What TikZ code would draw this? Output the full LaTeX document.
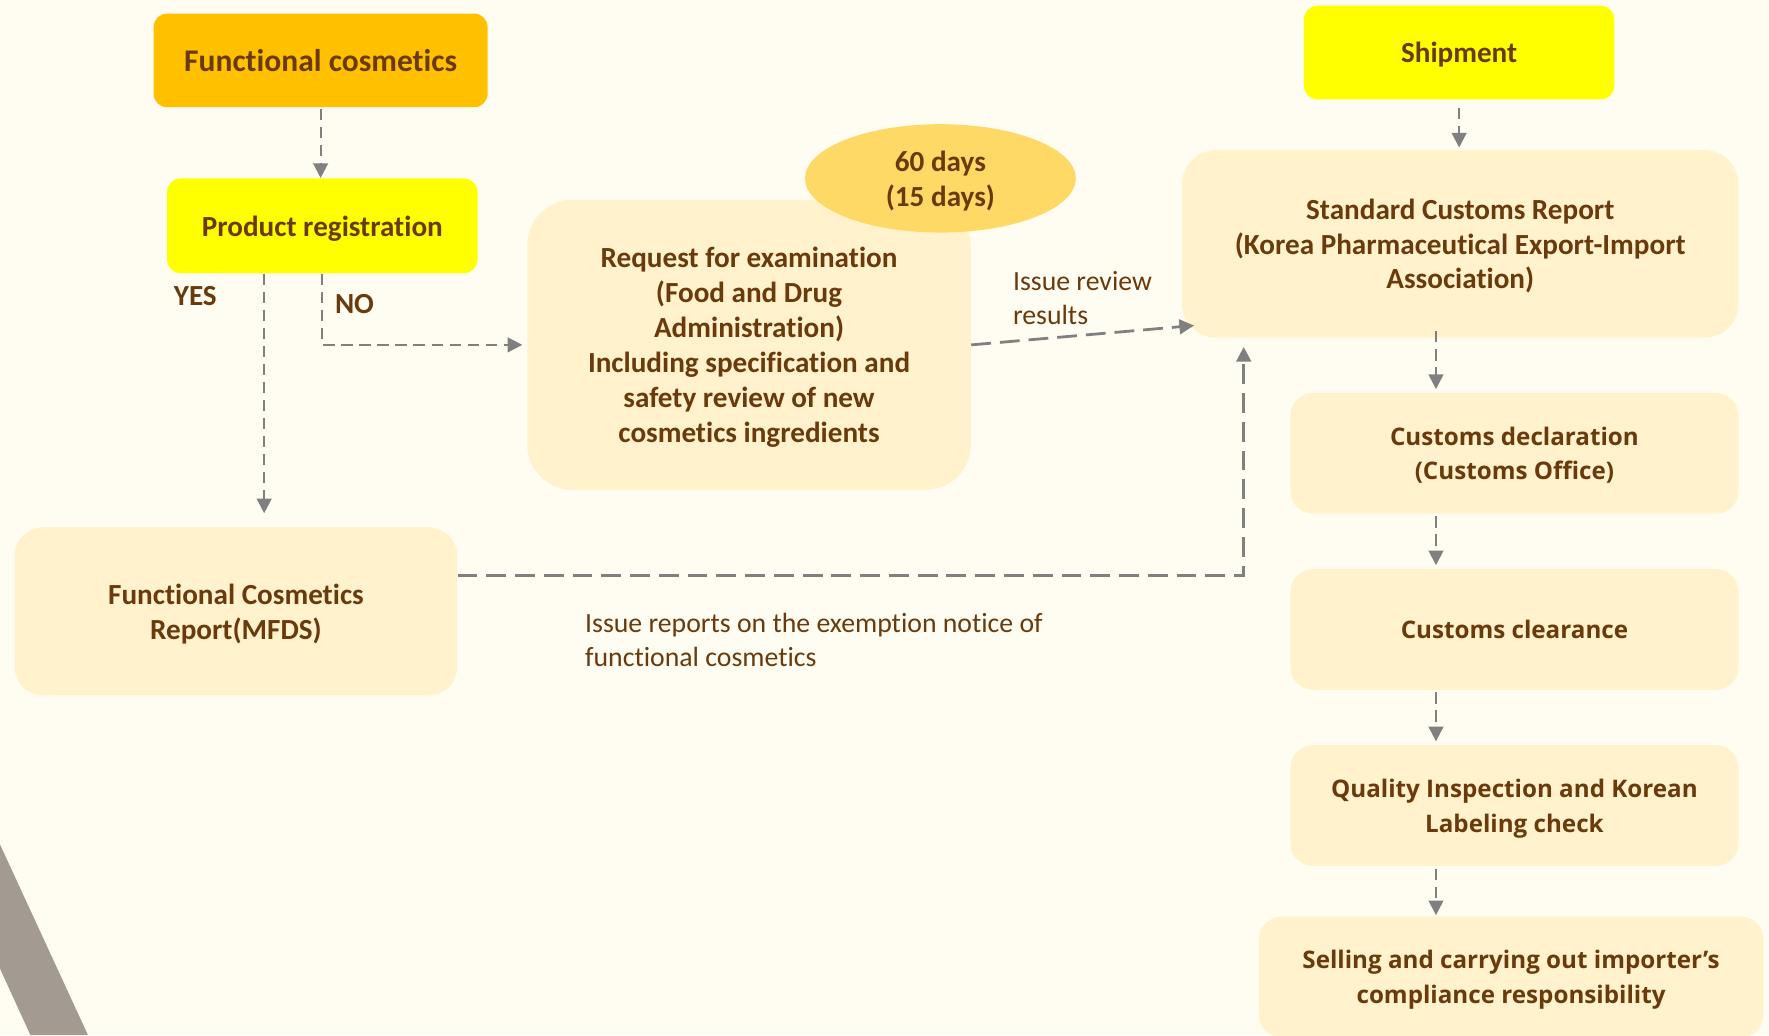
\documentclass[tikz,border=0pt]{standalone}
\usepackage{fontspec}
\setmainfont{Carlito}[Ligatures=NoCommon]
\newfontfamily\opensans{Open Sans}
\usetikzlibrary{arrows.meta,shapes.geometric}

\definecolor{bgcream}{HTML}{FFFDF1}
\definecolor{boxorange}{HTML}{FFC000}
\definecolor{boxyellow}{HTML}{FFFF00}
\definecolor{boxpale}{HTML}{FFF2CC}
\definecolor{daysgold}{HTML}{FFD966}
\definecolor{textbrown}{HTML}{6B3A0C}
\definecolor{linegrey}{HTML}{808080}
\definecolor{bargrey}{HTML}{A39A92}

\begin{document}
\begin{tikzpicture}[x=0.02cm, y=-0.02cm,
  box/.style={rounded corners=0.24cm, align=center, inner sep=0pt, text=textbrown, text depth=0pt,
    font=\bfseries\fontsize{14.7}{17.6}\selectfont},
  rbox/.style={box, fill=boxpale, minimum width=7.94cm, minimum height=2.14cm,
    rounded corners=0.4cm, font=\opensans\bfseries\fontsize{12.2}{17.6}\selectfont},
  note/.style={align=left, anchor=west, inner sep=0pt, text=textbrown,
    font=\fontsize{14}{17}\selectfont},
  flow/.style={draw=linegrey, line width=1.1pt, dash pattern=on 5.7pt off 3.4pt,
    -{Triangle[length=0.26cm, width=0.26cm]}},
  longflow/.style={flow, line width=1.4pt, dash pattern=on 10pt off 4.5pt}]

\useasboundingbox (0,0) rectangle (1567,917);
\fill[bgcream] (0,0) rectangle (1567,917);
\fill[bargrey] (0,748) -- (78,917) -- (27,917) -- (0,858) -- cycle;

% left branch
\node[box, fill=boxorange, minimum width=5.92cm, minimum height=1.66cm,
  font=\bfseries\fontsize{15.9}{19}\selectfont] (cosm) at (284,53.5) {Functional cosmetics};
\node[box, fill=boxyellow, minimum width=5.5cm, minimum height=1.68cm] (reg) at (285.5,200) {Product registration};
\node[box, fill=boxpale, minimum width=7.86cm, minimum height=5.14cm, rounded corners=0.8cm] (exam) at (663.5,305.5)
  {Request for examination\\(Food and Drug\\Administration)\\Including specification and\\safety review of new\\cosmetics ingredients};
\node[box, ellipse, fill=daysgold, minimum width=4.8cm, minimum height=1.92cm] (days) at (833,158) {60 days\\(15 days)};
\node[box, fill=boxpale, minimum width=7.84cm, minimum height=2.98cm, rounded corners=0.5cm] (mfds) at (209,541.5)
  {Functional Cosmetics\\Report(MFDS)};

\node[box] (yes) at (173,262) {YES};
\node[box] (no) at (314,269) {NO};

% right column
\node[box, fill=boxyellow, minimum width=5.5cm, minimum height=1.66cm] (ship) at (1292.5,46.5) {Shipment};
\node[box, fill=boxpale, minimum width=9.86cm, minimum height=3.32cm, rounded corners=0.6cm] (std) at (1293.5,216)
  {Standard Customs Report\\(Korea Pharmaceutical Export-Import\\Association)};
\node[rbox] (decl) at (1341.5,401.5) {Customs declaration\\(Customs Office)};
\node[rbox] (clear) at (1341.5,557.5) {Customs clearance};
\node[rbox] (qual) at (1341.5,713.5) {Quality Inspection and Korean\\Labeling check};
\node[rbox, minimum width=8.94cm] (sell) at (1338.5,865.5) {Selling and carrying out importer’s\\compliance responsibility};

\node[note] (review) at (897,264) {Issue review\\results};
\node[note] (exempt) at (518,567) {Issue reports on the exemption notice of\\functional cosmetics};

% connectors
\coordinate (yesfoot) at ([xshift=-1.03cm]reg.south);
\coordinate (spine) at (1272,0);
\draw[flow, shorten <=0.02cm] (cosm.south) -- (cosm.south |- reg.north);
\draw[flow, shorten >=0.24cm] (yesfoot) -- (yesfoot |- mfds.north);
\draw[flow, shorten >=0.08cm] (reg.south) |- (exam.west);
\draw[longflow] (exam.east) -- ([shift={(0.22cm,0.22cm)}]std.south west);
\draw[longflow, shorten >=0.16cm] ([yshift=0.63cm]mfds.east) -| ([xshift=1.1cm]std.south west);
\draw[flow, shorten <=0.14cm, shorten >=0.04cm] (ship.south) -- (ship.south |- std.north);
\draw[flow, shorten <=-0.12cm, shorten >=0.06cm] (spine |- std.south) -- (spine |- decl.north);
\draw[flow, shorten <=0.04cm, shorten >=0.06cm] (spine |- decl.south) -- (spine |- clear.north);
\draw[flow, shorten <=0.04cm, shorten >=0.06cm] (spine |- clear.south) -- (spine |- qual.north);
\draw[flow, shorten <=0.04cm, shorten >=0.02cm] (spine |- qual.south) -- (spine |- sell.north);
\end{tikzpicture}
\end{document}
